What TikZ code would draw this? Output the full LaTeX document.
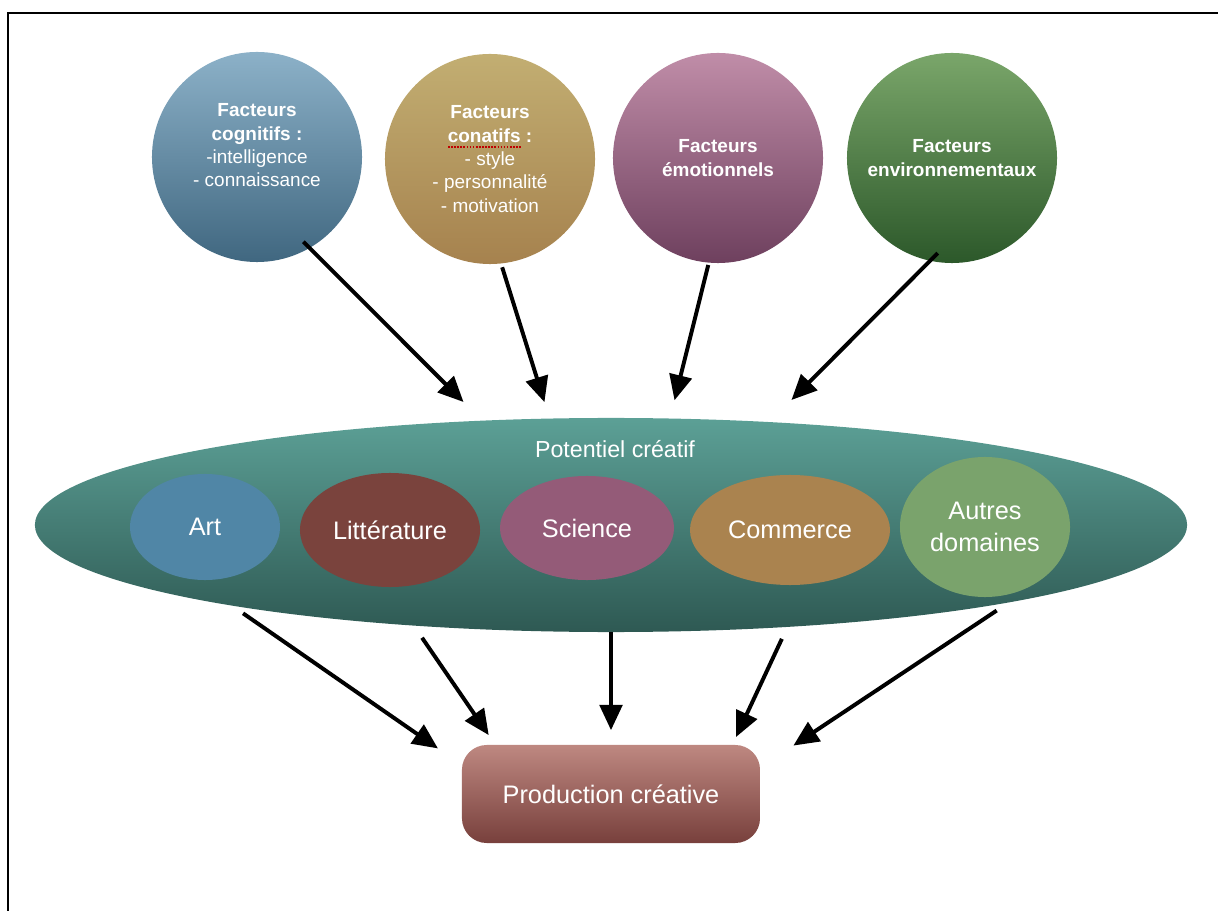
\documentclass[tikz,border=0pt]{standalone}
\usepackage{fontspec}
\setmainfont{Liberation Sans}
\usetikzlibrary{shapes.geometric, arrows.meta}

\definecolor{cogtop}{RGB}{140,177,200}
\definecolor{cogbot}{RGB}{64,103,128}
\definecolor{contop}{RGB}{194,174,114}
\definecolor{conbot}{RGB}{166,130,78}
\definecolor{emotop}{RGB}{192,141,168}
\definecolor{emobot}{RGB}{110,64,94}
\definecolor{envtop}{RGB}{122,166,106}
\definecolor{envbot}{RGB}{44,88,42}
\definecolor{pottop}{RGB}{92,160,150}
\definecolor{potbot}{RGB}{46,89,83}
\definecolor{prodtop}{RGB}{190,136,129}
\definecolor{prodbot}{RGB}{120,64,60}
\definecolor{artcol}{RGB}{80,134,166}
\definecolor{litcol}{RGB}{122,67,61}
\definecolor{scicol}{RGB}{148,91,120}
\definecolor{comcol}{RGB}{170,131,79}
\definecolor{autcol}{RGB}{122,163,108}

\tikzset{
    factor/.style={circle, minimum size=5.25cm, inner sep=0pt, outer sep=0pt,
        text=white, align=center, font=\fontsize{13.5}{16.6}\selectfont},
    field/.style={ellipse, inner sep=0pt, outer sep=0pt,
        text=white, align=center, font=\fontsize{18}{22.8}\selectfont},
    arr/.style={line width=2.8pt, -{Triangle[length=18pt, width=16pt]}}
}

\begin{document}
\begin{tikzpicture}[x=0.025cm, y=-0.025cm]

    \useasboundingbox (0,0) rectangle (1218,911);

    % Frame
    \draw[line width=1.7pt] (8,911) -- (8,13) -- (1218,13);

    % Top row
    \node[factor, top color=cogtop, bottom color=cogbot] (cog) at (257,157)
        {\textbf{Facteurs}\\\textbf{cognitifs :}\\-intelligence\\- connaissance\\\mbox{}};
    \node[factor, top color=contop, bottom color=conbot] (con) at (490,159)
        {\textbf{Facteurs}\\\textbf{conatifs :}\\- style\\- personnalité\\- motivation};
    \node[factor, top color=emotop, bottom color=emobot] (emo) at (718,158)
        {\textbf{Facteurs}\\\textbf{émotionnels}};
    \node[factor, top color=envtop, bottom color=envbot] (env) at (952,158)
        {\textbf{Facteurs}\\\textbf{environnementaux}};
    \draw[red!75!black, densely dotted, line width=1.2pt] (448,147) -- (522,147);

    % Middle
    \node[ellipse, minimum width=28.8cm, minimum height=5.35cm, inner sep=0pt, outer sep=0pt,
        top color=pottop, bottom color=potbot] (pot) at (611,525) {};
    \node[text=white, font=\fontsize{16.5}{20}\selectfont] (pottxt) at (615,449) {Potentiel créatif};

    \node[field, fill=artcol, minimum width=3.75cm, minimum height=2.65cm] (art) at (205,527) {Art};
    \node[field, fill=litcol, minimum width=4.5cm, minimum height=2.85cm] (lit) at (390,530) {Littérature};
    \node[field, fill=scicol, minimum width=4.35cm, minimum height=2.6cm] (sci) at (587,528) {Science};
    \node[field, fill=comcol, minimum width=5cm, minimum height=2.75cm] (com) at (790,530) {Commerce};
    \node[field, fill=autcol, minimum width=4.25cm, minimum height=3.5cm] (aut) at (985,527) {Autres\\domaines};

    % Bottom
    \node[rectangle, rounded corners=0.62cm, minimum width=7.45cm, minimum height=2.45cm,
        inner sep=0pt, outer sep=0pt, top color=prodtop, bottom color=prodbot,
        text=white, font=\fontsize{18}{22}\selectfont] (prod) at (611,794) {Production créative};

    % Edges
    \draw[arr, shorten <=-0.22cm, shorten >=0.66cm] (cog.-60) -- (pot.141);
    \draw[arr, shorten <=0.1cm, shorten >=0.43cm] (con.-84) -- (pot.120);
    \draw[arr, shorten <=0.06cm, shorten >=0.47cm] (emo.-95) -- (pot.61);
    \draw[arr, shorten <=-0.27cm, shorten >=0.78cm] (env.-102) -- (pot.33);

    \draw[arr, shorten <=0.34cm, shorten >=0.73cm] (pot.192) -- (prod.169);
    \draw[arr, shorten <=0.37cm, shorten >=0.3cm] (pot.207) -- (prod.157);
    \draw[arr, shorten <=0cm, shorten >=0.37cm] (pot.south) -- (prod.north);
    \draw[arr, shorten <=0.33cm, shorten >=0.22cm] (pot.330) -- (prod.22);
    \draw[arr, shorten <=0.37cm, shorten >=1cm] (pot.349) -- (prod.10);

\end{tikzpicture}
\end{document}
